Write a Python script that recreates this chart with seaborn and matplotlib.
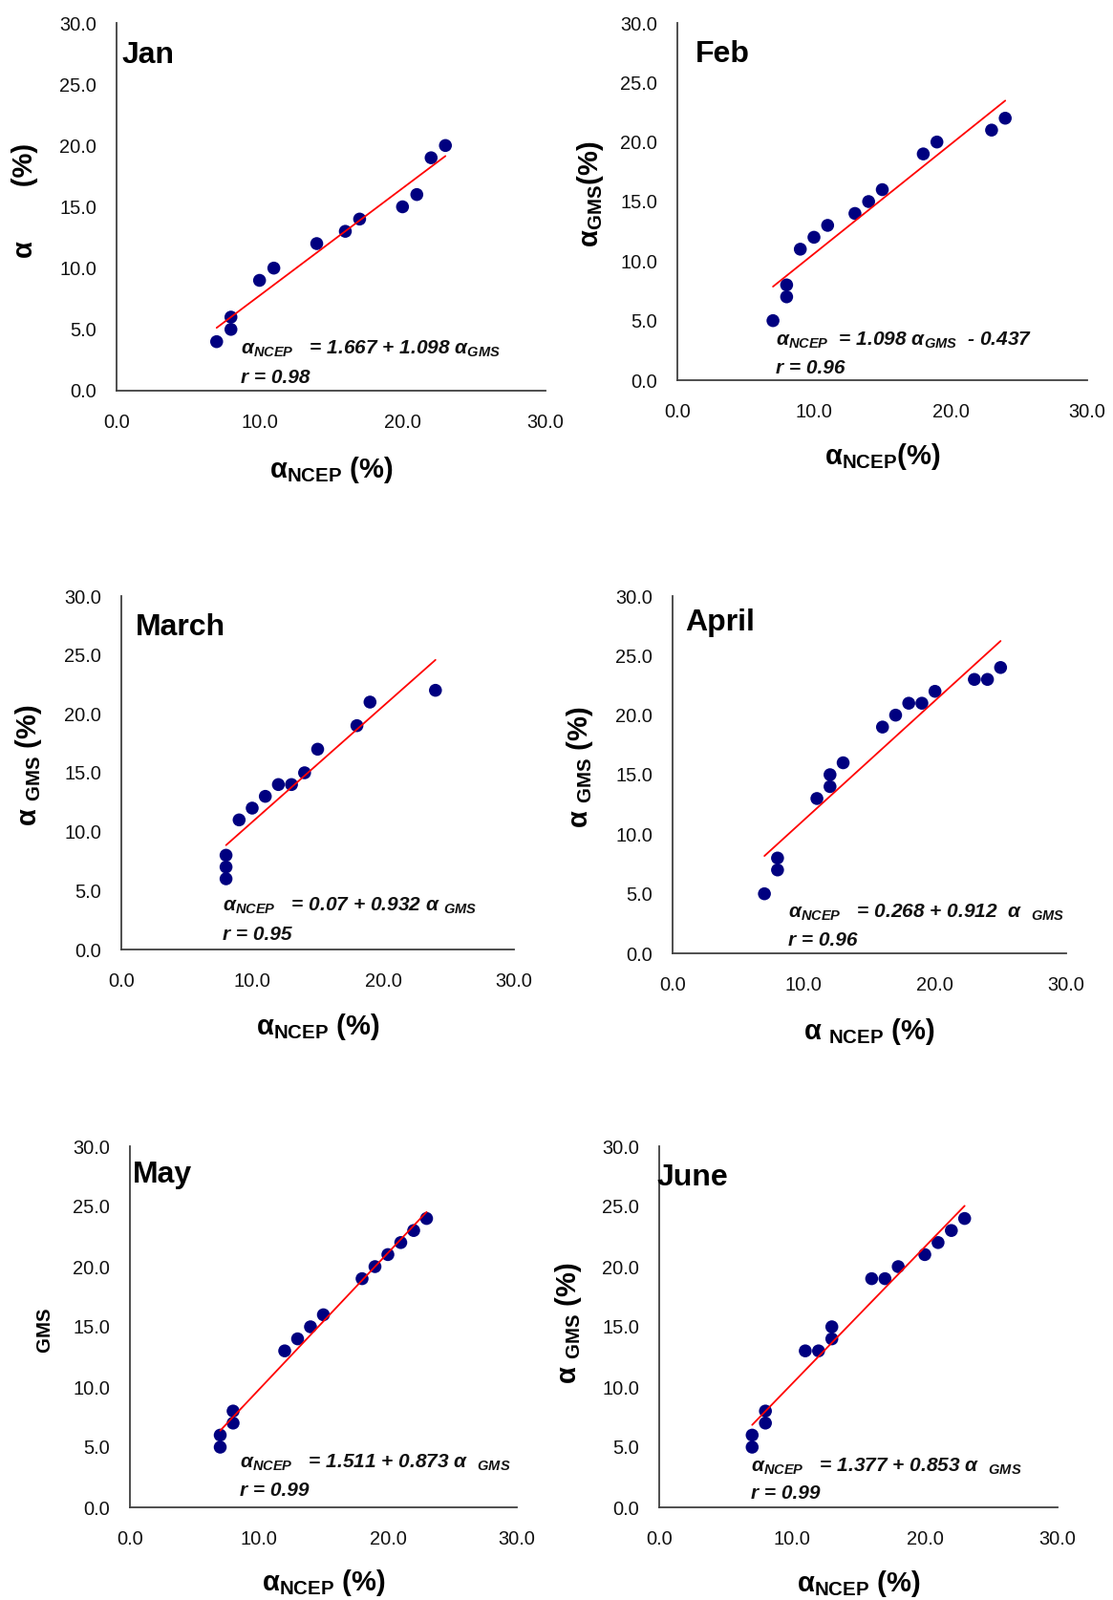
import matplotlib
matplotlib.use("Agg")
import matplotlib.pyplot as plt
import seaborn as sns
import pandas as pd

# ---------------- data ----------------
months = ["Jan", "Feb", "March", "April", "May", "June"]

jan_ncep = [7, 8, 8, 10, 11, 14, 16, 17, 20, 21, 22, 23]
jan_gms = [4, 6, 5, 9, 10, 12, 13, 14, 15, 16, 19, 20]
feb_ncep = [7, 8, 8, 9, 10, 11, 13, 14, 15, 18, 19, 23, 24]
feb_gms = [5, 8, 7, 11, 12, 13, 14, 15, 16, 19, 20, 21, 22]
mar_ncep = [8, 8, 8, 9, 10, 11, 12, 13, 14, 15, 18, 19, 24]
mar_gms = [8, 7, 6, 11, 12, 13, 14, 14, 15, 17, 19, 21, 22]
apr_ncep = [7, 8, 8, 11, 12, 12, 13, 16, 17, 18, 19, 20, 23, 24, 25]
apr_gms = [5, 8, 7, 13, 14, 15, 16, 19, 20, 21, 21, 22, 23, 23, 24]
may_ncep = [7, 7, 8, 8, 12, 13, 14, 15, 18, 19, 20, 21, 22, 23]
may_gms = [6, 5, 8, 7, 13, 14, 15, 16, 19, 20, 21, 22, 23, 24]
jun_ncep = [7, 7, 8, 8, 11, 12, 13, 13, 16, 17, 18, 20, 21, 22, 23]
jun_gms = [6, 5, 8, 7, 13, 13, 15, 14, 19, 19, 20, 21, 22, 23, 24]

x_series = [jan_ncep, feb_ncep, mar_ncep, apr_ncep, may_ncep, jun_ncep]
y_series = [jan_gms, feb_gms, mar_gms, apr_gms, may_gms, jun_gms]

x_ticks = [0, 10, 20, 30]
y_ticks = [0, 5, 10, 15, 20, 25, 30]

eq_texts = [
    "α$_\\mathbfit{NCEP}$   = 1.667 + 1.098 α$_\\mathbfit{GMS}$",
    "α$_\\mathbfit{NCEP}$  = 1.098 α$_\\mathbfit{GMS}$  - 0.437",
    "α$_\\mathbfit{NCEP}$   = 0.07 + 0.932 α $_\\mathbfit{GMS}$",
    "α$_\\mathbfit{NCEP}$   = 0.268 + 0.912  α  $_\\mathbfit{GMS}$",
    "α$_\\mathbfit{NCEP}$   = 1.511 + 0.873 α  $_\\mathbfit{GMS}$",
    "α$_\\mathbfit{NCEP}$   = 1.377 + 0.853 α  $_\\mathbfit{GMS}$",
]
r_texts = ["r = 0.98", "r = 0.96", "r = 0.95", "r = 0.96", "r = 0.99", "r = 0.99"]

ylabels = ["α       (%)", "α$_\\mathbf{GMS}$(%)", "α $_\\mathbf{GMS}$ (%)",
           "α $_\\mathbf{GMS}$ (%)", "$_\\mathbf{GMS}$", "α $_\\mathbf{GMS}$ (%)"]
xlabels = ["α$_\\mathbf{NCEP}$ (%)", "α$_\\mathbf{NCEP}$(%)", "α$_\\mathbf{NCEP}$ (%)",
           "α $_\\mathbf{NCEP}$ (%)", "α$_\\mathbf{NCEP}$ (%)", "α$_\\mathbf{NCEP}$ (%)"]

# ---------------- layout (pixels: left, right, top, bottom) ----------------
W, H = 1165, 1675
boxes = [(122, 571, 24, 409), (709, 1138, 24, 398),
         (127, 538, 624, 994), (704, 1116, 624, 998),
         (136, 541, 1200, 1578), (690, 1107, 1200, 1578)]
title_pos = [(0.013, 0.912), (0.043, 0.912), (0.036, 0.911),
             (0.032, 0.925), (0.006, 0.921), (-0.005, 0.913)]
eq_pos = [(0.289, 0.099, 0.021), (0.24, 0.096, 0.019), (0.258, 0.108, 0.027),
          (0.293, 0.099, 0.021), (0.284, 0.108, 0.032), (0.23, 0.100, 0.024)]
ylab_off = [(96, 0.517), (91, 0.52), (97, 0.52), (97, 0.52), (95, 0.49), (95, 0.51)]
xlab_off = [83, 80, 81, 82, 79, 80]

sns.set_theme(style="white")
plt.rcParams["font.family"] = ["Liberation Sans", "DejaVu Sans"]
plt.rcParams["mathtext.fontset"] = "custom"
plt.rcParams["mathtext.rm"] = "Liberation Sans"
plt.rcParams["mathtext.it"] = "Liberation Sans:italic"
plt.rcParams["mathtext.bf"] = "Liberation Sans:bold"
plt.rcParams["mathtext.bfit"] = "Liberation Sans:italic:bold"
plt.rcParams["mathtext.sf"] = "Liberation Sans"

fig = plt.figure(figsize=(W / 100, H / 100), dpi=100)
fig.patch.set_facecolor("white")

axis_col = "#404040"

for i in range(6):
    l, r, t, b = boxes[i]
    ax = fig.add_axes([l / W, (H - b) / H, (r - l) / W, (b - t) / H])
    ax.set_facecolor("white")
    df = pd.DataFrame({"ncep": x_series[i], "gms": y_series[i]})
    sns.scatterplot(data=df, x="ncep", y="gms", ax=ax, color="#000080",
                    s=95, edgecolor="none", linewidth=0, zorder=2, legend=False)
    sns.regplot(data=df, x="ncep", y="gms", ax=ax, scatter=False, ci=None,
                color="#ff0000", truncate=True, line_kws={"lw": 1.3, "zorder": 3})
    ax.set_xlim(0, 30)
    ax.set_ylim(0, 30)
    ax.set_xticks(x_ticks)
    ax.set_yticks(y_ticks)
    ax.set_xticklabels([f"{v:.1f}" for v in x_ticks])
    ax.set_yticklabels([f"{v:.1f}" for v in y_ticks])
    ax.grid(False)
    for s in ["top", "right"]:
        ax.spines[s].set_visible(False)
    for s in ["left", "bottom"]:
        ax.spines[s].set_color(axis_col)
        ax.spines[s].set_linewidth(1.3)
    ax.tick_params(axis="both", direction="in", length=5, width=1.2,
                   color=axis_col, labelsize=14.4, labelcolor="#111111")
    ax.tick_params(axis="x", pad=17)
    ax.tick_params(axis="y", pad=15)

    wpx, hpx = r - l, b - t
    ax.set_xlabel(xlabels[i], fontsize=21, fontweight="bold", color="black")
    ax.set_ylabel(ylabels[i], fontsize=21, fontweight="bold", color="black")
    ax.yaxis.label.set_va("center")
    ax.yaxis.set_label_coords(-ylab_off[i][0] / wpx, ylab_off[i][1])
    ax.xaxis.label.set_va("center")
    ax.xaxis.set_label_coords(0.5, -xlab_off[i] / hpx)

    tx, ty = title_pos[i]
    ax.text(tx, ty, months[i], transform=ax.transAxes, fontsize=23,
            fontweight="bold", ha="left", va="center", color="black")

    ex, ey, ry = eq_pos[i]
    ax.text(ex, ey, eq_texts[i], transform=ax.transAxes, fontsize=15,
            fontweight="bold", style="italic", ha="left", va="baseline",
            color="#111111")
    ax.text(ex, ry, r_texts[i], transform=ax.transAxes, fontsize=15,
            fontweight="bold", style="italic", ha="left", va="baseline",
            color="#111111")

fig.savefig("out.png", dpi=100, facecolor="white")
